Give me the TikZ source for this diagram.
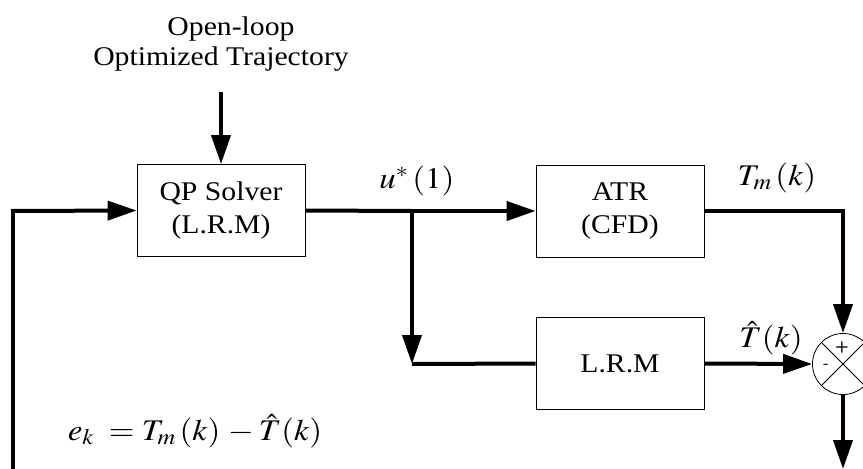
\documentclass[tikz,border=0pt]{standalone}
\usepackage{mathptmx}
\usepackage[no-math]{fontspec}
\setmainfont{Liberation Serif}[FakeStretch=1.1]
\usetikzlibrary{arrows.meta}
\newcommand{\wmath}[1]{\scalebox{1.1}[1]{$#1$}}
\begin{document}
\begin{tikzpicture}[x=1pt,y=-1pt,
  blk/.style={draw,line width=0.8pt,minimum width=168pt,minimum height=92pt,inner sep=0pt,align=center,font=\fontsize{27}{33}\selectfont},
  sig/.style={line width=4pt},
  sigarr/.style={line width=4pt,-{Triangle[length=29pt,width=19pt]}},
  txt/.style={font=\fontsize{27}{30}\selectfont,inner sep=0pt,anchor=base},
  lbl/.style={font=\fontsize{30}{34}\selectfont,inner sep=0pt,anchor=base}]
\useasboundingbox (0,0) rectangle (863,469);
\node[blk] (qp) at (221,210.5) {QP Solver\\(L.R.M)};
\node[blk] (atr) at (620,211) {ATR\\(CFD)};
\node[blk] (lrm) at (620,363.5) {L.R.M};
\node[draw,circle,line width=0.8pt,minimum size=61pt,inner sep=0pt] (sum) at (843,364) {};
\draw[line width=0.8pt] (sum.north west) -- (sum.south east) (sum.north east) -- (sum.south west);
\node[font=\sffamily\bfseries\fontsize{16}{16}\selectfont,inner sep=0pt] (plus) at (842,347) {+};
\node[font=\sffamily\bfseries\fontsize{16}{16}\selectfont,inner sep=0pt] (minus) at (826,366) {-};
\node[txt] (ol1) at (231,35) {Open-loop};
\node[txt] (ol2) at (221,65) {Optimized Trajectory};
\coordinate (olend) at (221,92);
\coordinate (br) at (412,211);
\coordinate (brd) at (412,364);
\coordinate (lb) at (13,469);
\coordinate (lt) at (13,211);
\coordinate (outp) at (843,469);
\draw[sigarr] (olend) -- (qp.north);
\draw[sig] (qp.east) -- (br);
\draw[sigarr] (br) -- (atr.west);
\draw[sigarr] (br) -- (brd);
\draw[sig] (brd) -- (lrm.west);
\draw[sigarr] (atr.east) -| (sum.north);
\draw[sigarr] (lrm.east) -- (sum.west);
\draw[sigarr] (sum.south) -- (outp);
\draw[sig] (lb) -- (lt);
\draw[sigarr] ([xshift=-2pt]lt) -- (qp.west);
\node[lbl] (u) at (417,188) {\wmath{u^{*}\,(1)}};
\node[lbl] (tm) at (777,185) {\wmath{T_{m}\,(k)}};
\node[lbl] (th) at (771,347) {\wmath{\hat{T}(k)}};
\node[lbl] (ek) at (195,440) {\wmath{e_{k}\;=T_{m}\,(k)\,-\hat{T}(k)}};
\end{tikzpicture}
\end{document}
